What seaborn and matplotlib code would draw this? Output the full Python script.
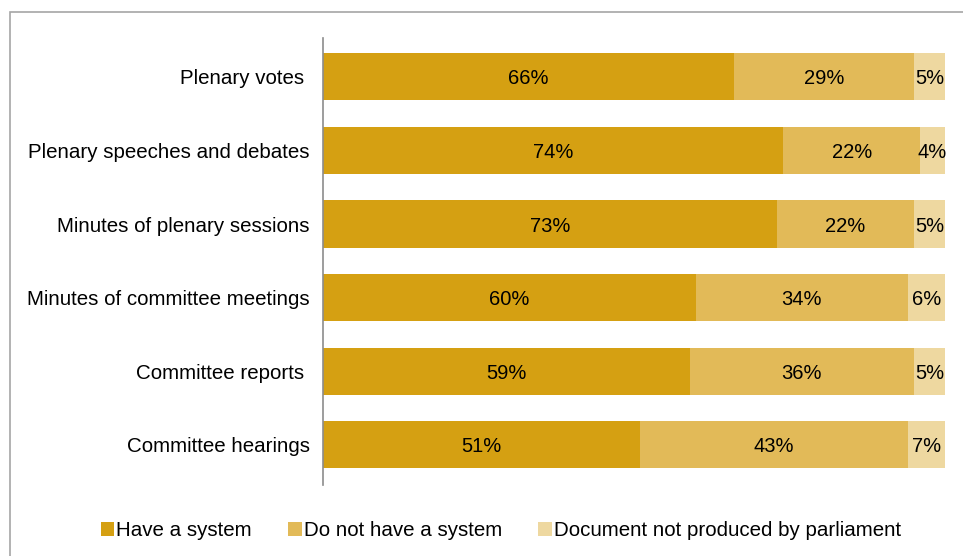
import matplotlib
matplotlib.use("Agg")
import matplotlib.pyplot as plt
import seaborn as sns
import pandas as pd
from matplotlib.patches import Rectangle, Patch

categories = [
    "Plenary votes ",
    "Plenary speeches and debates",
    "Minutes of plenary sessions",
    "Minutes of committee meetings",
    "Committee reports ",
    "Committee hearings",
]
have_system = [66, 74, 73, 60, 59, 51]
no_system = [29, 22, 22, 34, 36, 43]
not_produced = [5, 4, 5, 6, 5, 7]

series_names = ["Have a system", "Do not have a system", "Document not produced by parliament"]
colors = ["#D5A012", "#E2BA58", "#EED8A0"]

sns.set_theme(style="white")
plt.rcParams["font.family"] = ["Liberation Sans", "DejaVu Sans"]
plt.rcParams["text.color"] = "black"

df = pd.DataFrame({
    "category": categories,
    series_names[0]: have_system,
    series_names[1]: no_system,
    series_names[2]: not_produced,
})

fig = plt.figure(figsize=(9.63, 5.56), dpi=100)
ax = fig.add_axes([323 / 963, 1 - 485 / 556, (945 - 323) / 963, (485 - 38) / 556])

left = pd.Series([0] * len(categories), dtype=float)
for name, color in zip(series_names, colors):
    tmp = df[["category"]].copy()
    tmp["value"] = df[name]
    tmp["left"] = left.values
    sns.barplot(data=tmp, x="value", y="category", left=tmp["left"], color=color,
                orient="h", width=0.64, ax=ax, linewidth=0, saturation=1)
    for i, (v, l) in enumerate(zip(tmp["value"], tmp["left"])):
        # centre each label within the visible part of its segment
        xc = (l + min(l + v, 100)) / 2
        ax.text(xc, i, f"{v}%", ha="center", va="center_baseline",
                fontsize=14.5, color="black")
    left = left + df[name]

ax.set_xlim(0, 100)
ax.set_ylim(5.55, -0.53)
ax.set_xlabel("")
ax.set_ylabel("")
ax.set_xticks([])
ax.tick_params(axis="y", length=0, pad=9.5, labelsize=14.8, labelcolor="black")
for s in ["top", "right", "bottom"]:
    ax.spines[s].set_visible(False)
ax.spines["left"].set_color("#8c8c8c")
ax.spines["left"].set_linewidth(1.2)

handles = [Patch(facecolor=c, edgecolor="none") for c in colors]
leg = fig.legend(handles, series_names, loc="center", bbox_to_anchor=(0.52, 1 - 531 / 556),
                 ncol=3, frameon=False, fontsize=14.8, handlelength=0.67, handleheight=0.67,
                 handletextpad=0.1, columnspacing=1.75)
for t in leg.get_texts():
    t.set_color("black")

fig.patches.append(Rectangle((10 / 963, -0.1), 1.2, 1 - 12 / 556 + 0.1, transform=fig.transFigure,
                             fill=False, edgecolor="#a6a6a6", linewidth=1.2, zorder=-1))

fig.savefig("out.png", dpi=100)
